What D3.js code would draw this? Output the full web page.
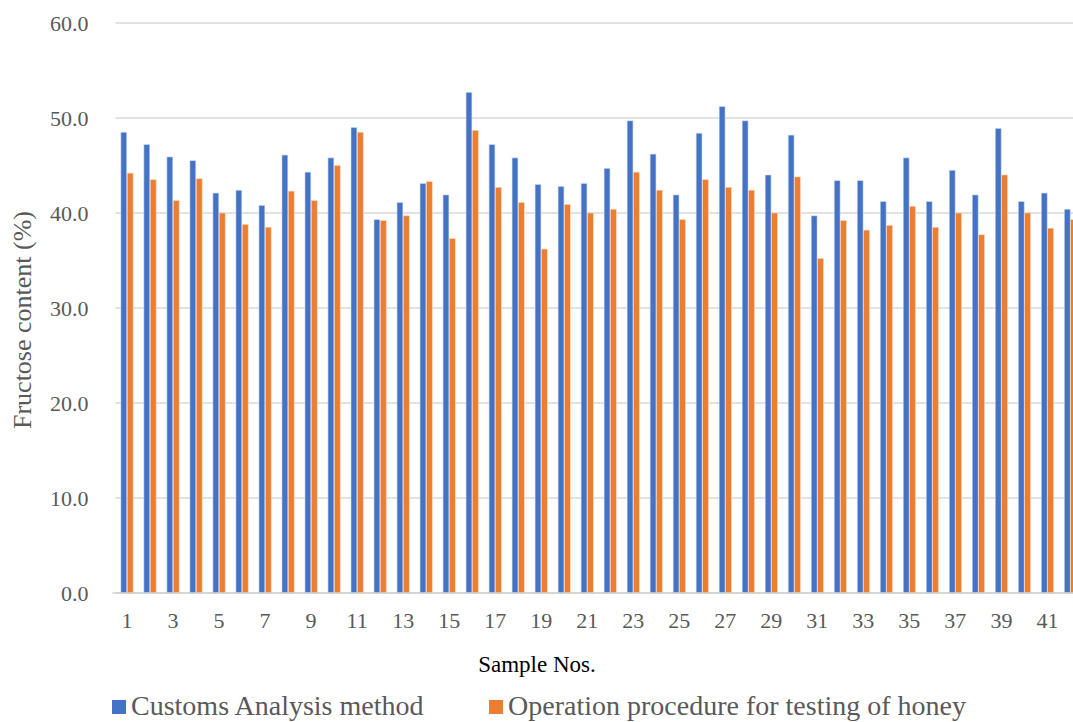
<!DOCTYPE html>
<html>
<head>
<meta charset="utf-8">
<script src="https://cdn.jsdelivr.net/npm/d3@7"></script>
<style>
  html, body { margin: 0; padding: 0; background: #fff; overflow: hidden; }
  svg { display: block; }
</style>
</head>
<body>
<div id="chart"></div>
<script>
"use strict";

// sample numbers (chart is cropped on the right after sample 42)
var samples = d3.range(1, 43).map(String);

var customsValues = [48.5, 47.2, 45.9, 45.5, 42.1, 42.4, 40.8, 46.1, 44.3, 45.8,
                     49.0, 39.3, 41.1, 43.1, 41.9, 52.7, 47.2, 45.8, 43.0, 42.8,
                     43.1, 44.7, 49.7, 46.2, 41.9, 48.4, 51.2, 49.7, 44.0, 48.2,
                     39.7, 43.4, 43.4, 41.2, 45.8, 41.2, 44.5, 41.9, 48.9, 41.2,
                     42.1, 40.4];

var honeyValues = [44.2, 43.5, 41.3, 43.6, 40.0, 38.8, 38.5, 42.3, 41.3, 45.0,
                   48.5, 39.2, 39.7, 43.3, 37.3, 48.7, 42.7, 41.1, 36.2, 40.9,
                   40.0, 40.4, 44.3, 42.4, 39.3, 43.5, 42.7, 42.4, 40.0, 43.8,
                   35.2, 39.2, 38.2, 38.7, 40.7, 38.5, 40.0, 37.7, 44.0, 40.0,
                   38.4, 39.3];

var seriesNames = ["Customs Analysis method", "Operation procedure for testing of honey"];
var seriesColors = ["#4472C4", "#ED7D31"];
var yTicks = [0, 10, 20, 30, 40, 50, 60];

(function () {
  var width = 1073, height = 722;
  var plotLeft = 115.5, step = 23.01;
  var plotTop = 23, plotBottom = 593;
  var serif = "'Liberation Serif', 'Times New Roman', serif";

  var data = samples.map(function (s, i) {
    return { sample: s, values: [customsValues[i], honeyValues[i]] };
  });

  var svg = d3.select("#chart").append("svg")
    .attr("width", width)
    .attr("height", height);

  var x = d3.scaleBand().domain(samples)
    .range([plotLeft, plotLeft + samples.length * step])
    .paddingInner(0.47).paddingOuter(0.235);
  var xInner = d3.scaleBand().domain([0, 1]).range([0, x.bandwidth()]).paddingInner(0.08);
  var y = d3.scaleLinear().domain([0, 60]).range([plotBottom, plotTop]);

  // gridlines
  svg.append("g")
    .selectAll("line")
    .data(yTicks)
    .enter()
    .append("line")
    .attr("x1", plotLeft)
    .attr("x2", width + 10)
    .attr("y1", function (d) { return y(d); })
    .attr("y2", function (d) { return y(d); })
    .attr("stroke", "#d9d9d9")
    .attr("stroke-width", 1.5);

  // y axis labels
  var yAxis = svg.append("g")
    .attr("transform", "translate(" + (plotLeft - 24) + ",0)")
    .call(d3.axisLeft(y).tickValues(yTicks).tickSize(0).tickFormat(d3.format(".1f")));
  yAxis.select(".domain").remove();
  yAxis.selectAll("text")
    .attr("fill", "#595959")
    .style("font-family", serif)
    .style("font-size", "22px");

  // bars
  svg.append("g")
    .selectAll("g")
    .data(data)
    .enter()
    .append("g")
    .attr("transform", function (d) { return "translate(" + x(d.sample) + ",0)"; })
    .selectAll("rect")
    .data(function (d) { return d.values; })
    .enter()
    .append("rect")
    .attr("x", function (d, i) { return xInner(i); })
    .attr("width", xInner.bandwidth())
    .attr("y", function (d) { return y(d); })
    .attr("height", function (d) { return y(0) - y(d); })
    .attr("fill", function (d, i) { return seriesColors[i]; })
    .attr("stroke", function (d, i) { return i === 0 ? "#c9d6ee" : "#f8d2b8"; })
    .attr("stroke-width", 0.6);

  // baseline
  svg.append("line")
    .attr("x1", plotLeft - 3).attr("x2", width + 10)
    .attr("y1", y(0)).attr("y2", y(0))
    .attr("stroke", "#d0d0d0").attr("stroke-width", 1.5);

  // x axis labels, every other sample
  var xAxis = svg.append("g")
    .attr("transform", "translate(0," + (y(0) + 16) + ")")
    .call(d3.axisBottom(x)
      .tickValues(samples.filter(function (d, i) { return i % 2 === 0; }))
      .tickSize(0));
  xAxis.select(".domain").remove();
  xAxis.selectAll("text")
    .attr("fill", "#595959")
    .style("font-family", serif)
    .style("font-size", "22px");

  // axis titles
  svg.append("text")
    .attr("x", 537).attr("y", 672)
    .attr("text-anchor", "middle")
    .attr("fill", "#000")
    .style("font-family", serif)
    .style("font-size", "23px")
    .text("Sample Nos.");

  svg.append("text")
    .attr("transform", "translate(31,320) rotate(-90)")
    .attr("text-anchor", "middle")
    .attr("fill", "#595959")
    .style("font-family", serif)
    .style("font-size", "26px")
    .text("Fructose content (%)");

  // legend
  var legendX = [112, 489];
  var legend = svg.append("g")
    .selectAll("g")
    .data(seriesNames)
    .enter()
    .append("g")
    .attr("transform", function (d, i) { return "translate(" + legendX[i] + ",0)"; });
  legend.append("rect")
    .attr("x", 0).attr("y", 700)
    .attr("width", 14).attr("height", 14)
    .attr("fill", function (d, i) { return seriesColors[i]; });
  legend.append("text")
    .attr("x", 19).attr("y", 715)
    .attr("fill", "#595959")
    .style("font-family", serif)
    .style("font-size", "28px")
    .text(function (d) { return d; });
})();
</script>
</body>
</html>
